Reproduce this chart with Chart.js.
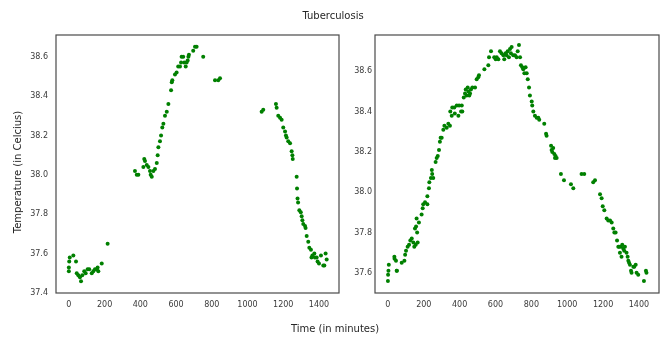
<!DOCTYPE html>
<html>
<head>
<meta charset="utf-8">
<script src="https://cdn.jsdelivr.net/npm/chart.js@4.4.1/dist/chart.umd.min.js"></script>
<style>
  body { margin: 0; background: #fff; font-family: "DejaVu Sans", sans-serif; }
  #wrap { position: relative; width: 663px; height: 339px; }
  canvas { position: absolute; top: 0; }
  .txt { position: absolute; color: #262626; font-size: 10px; line-height: 12px; white-space: nowrap; text-align: center; }
</style>
</head>
<body>
<div id="wrap">
  <canvas id="leftChart" style="left:0;width:345px;height:339px" width="345" height="339"></canvas>
  <canvas id="rightChart" style="left:345px;width:318px;height:339px" width="318" height="339"></canvas>
  <div class="txt" id="title" style="left:283px;width:100px;top:10px">Tuberculosis</div>
  <div class="txt" id="xlabel" style="left:275px;width:120px;top:323px">Time (in minutes)</div>
  <div class="txt" id="ylabel" style="left:-52px;width:140px;top:166px;transform:rotate(-90deg)">Temperature (in Celcius)</div>
</div>
<script>
/* DATA */

const leftTime = [
  0, 0, 2, 5, 25, 40, 44, 53, 62, 68, 75, 86, 94, 105, 114, 128, 137, 146, 156, 161, 165, 184, 217,
  370, 380, 389, 417, 422, 426, 436, 445, 454, 458, 464, 473, 482, 492, 497, 501, 510, 516, 523, 529,
  538, 548, 557, 572, 576, 579, 594, 603, 612, 622, 628, 631, 640, 646, 654, 659, 665, 669, 672, 696,
  706, 715, 752, 818, 836, 846,
  1079, 1088, 1159, 1163, 1172, 1182, 1191, 1200, 1210, 1215, 1219, 1228, 1238, 1247, 1251, 1253,
  1275, 1277, 1280, 1283, 1290, 1298, 1303, 1307, 1312, 1322, 1325, 1331, 1340, 1346, 1355, 1358,
  1363, 1374, 1377, 1387, 1392, 1400, 1411, 1424, 1430, 1437, 1443
];
const leftTemp = [
  37.51, 37.53, 37.56, 37.58, 37.59, 37.56, 37.50, 37.49, 37.48, 37.46, 37.49, 37.51, 37.50, 37.52, 37.52, 37.50, 37.51, 37.52, 37.52, 37.53, 37.51, 37.55, 37.65,
  38.02, 38.00, 38.00, 38.04, 38.08, 38.07, 38.05, 38.04, 38.02, 38.00, 37.99, 38.02, 38.03, 38.06, 38.10, 38.14, 38.17, 38.20, 38.24, 38.26,
  38.30, 38.32, 38.36, 38.43, 38.47, 38.48, 38.51, 38.52, 38.55, 38.55, 38.57, 38.60, 38.60, 38.57, 38.55, 38.57, 38.58, 38.60, 38.61, 38.63,
  38.65, 38.65, 38.60, 38.48, 38.48, 38.49,
  38.32, 38.33, 38.36, 38.34, 38.30, 38.29, 38.28, 38.24, 38.22, 38.20, 38.19, 38.17, 38.16, 38.12, 38.10, 38.08,
  37.99, 37.93, 37.88, 37.86, 37.82, 37.81, 37.79, 37.77, 37.75, 37.74, 37.73, 37.69, 37.66, 37.63, 37.62, 37.58,
  37.59, 37.60, 37.58, 37.58, 37.56, 37.55, 37.59, 37.54, 37.54, 37.60, 37.57
];

const rightTime = [
  0, 1, 3, 5, 36, 37, 45, 49, 50, 77, 92, 96, 101, 110, 118, 125, 133, 142, 147, 155, 166, 151, 157, 160,
  163, 173, 188, 194, 197, 207, 220, 220, 229, 231, 240, 247, 253, 245,
  266, 272, 278, 285, 290, 294, 300, 309, 315, 328, 337, 346, 348, 356, 359, 370, 373, 384, 393, 397,
  408, 412, 415, 423, 430, 434, 439, 445, 449, 454, 458, 463, 471, 486, 495, 504, 508, 538, 560, 564,
  575, 593, 601, 607, 616, 625, 634, 644, 649, 657, 662, 668, 675, 681, 686, 690, 699, 709, 718, 724,
  731, 737, 742, 750, 755, 761, 768, 774, 780, 787, 792, 802, 805, 811, 820, 830, 839, 844, 872, 882,
  885, 910, 913, 917, 922, 928, 935, 941, 932, 965, 982, 1021, 1034, 1080, 1095, 1145, 1155,
  1183, 1192, 1198, 1207, 1220, 1229, 1239, 1248, 1257, 1263, 1270, 1278, 1285, 1294, 1290, 1300,
  1307, 1313, 1318, 1322, 1331, 1303, 1337, 1341, 1345, 1350, 1356, 1359, 1369, 1374, 1382, 1387,
  1396, 1428, 1439, 1442
];
const rightTemp = [
  37.56, 37.59, 37.61, 37.64, 37.68, 37.67, 37.66, 37.61, 37.61, 37.65, 37.66, 37.69, 37.71, 37.73, 37.74, 37.76, 37.77, 37.75, 37.73, 37.74, 37.75, 37.82, 37.83, 37.87,
  37.80, 37.85, 37.89, 37.92, 37.94, 37.95, 37.94, 37.98, 38.02, 38.05, 38.07, 38.09, 38.07, 38.11,
  38.15, 38.17, 38.18, 38.21, 38.25, 38.27, 38.27, 38.31, 38.33, 38.32, 38.34, 38.33, 38.40, 38.38, 38.42, 38.42, 38.39, 38.43, 38.38, 38.43,
  38.40, 38.43, 38.40, 38.47, 38.49, 38.51, 38.48, 38.52, 38.50, 38.48, 38.49, 38.51, 38.52, 38.52, 38.56, 38.57, 38.58, 38.61, 38.63, 38.67,
  38.70, 38.67, 38.66, 38.67, 38.66, 38.70, 38.69, 38.68, 38.66, 38.69, 38.68, 38.70, 38.67, 38.71, 38.69, 38.72, 38.68, 38.68, 38.67, 38.70,
  38.73, 38.67, 38.63, 38.62, 38.61, 38.59, 38.62, 38.59, 38.56, 38.52, 38.48, 38.45, 38.43, 38.40, 38.38, 38.37, 38.37, 38.36, 38.34, 38.29,
  38.28, 38.23, 38.21, 38.20, 38.22, 38.19, 38.18, 38.17, 38.17, 38.09, 38.06, 38.04, 38.02, 38.09, 38.09, 38.05, 38.06,
  37.99, 37.97, 37.93, 37.91, 37.87, 37.86, 37.86, 37.85, 37.82, 37.80, 37.80, 37.76, 37.73, 37.70, 37.73, 37.73,
  37.74, 37.72, 37.71, 37.73, 37.70, 37.68, 37.68, 37.66, 37.65, 37.64, 37.61, 37.60, 37.63, 37.63, 37.64, 37.60,
  37.59, 37.56, 37.61, 37.60
];

const xTicks = [0, 200, 400, 600, 800, 1000, 1200, 1400];
const leftYTicks = [37.4, 37.6, 37.8, 38.0, 38.2, 38.4, 38.6];
const rightYTicks = [37.6, 37.8, 38.0, 38.2, 38.4, 38.6];

/* SETUP */

Chart.defaults.font.family = "'DejaVu Sans', sans-serif";
Chart.defaults.font.size = 8;
Chart.defaults.color = "#3a3a3a";

// frame round the plot area, like the reference
const frame = {
  id: "frame",
  afterDraw(chart){
    const a = chart.chartArea;
    const ctx = chart.ctx;
    ctx.save();
    ctx.strokeStyle = "#4a4a4a";
    ctx.lineWidth = 1.2;
    ctx.strokeRect(a.left, a.top, a.right - a.left, a.bottom - a.top);
    ctx.restore();
  }
};

function toPoints(xs, ys){
  return xs.map((x, i) => ({ x: x, y: ys[i] }));
}

function makeChart(id, xs, ys, yTicks, yMin, yMax, yWidth, yPad, rightPad){

  return new Chart(
    document.getElementById(id),
    {
      type: "scatter",
      data: {
        datasets: [{
          data: toPoints(xs, ys),
          backgroundColor: "#008000",
          borderColor: "#008000",
          pointRadius: 2,
          pointBorderWidth: 0
        }]
      },
      options: {
        responsive: false,
        animation: false,
        layout: { padding: { top: 35, right: rightPad, bottom: 0, left: 0 } },
        plugins: {
          legend: { display: false },
          tooltip: { enabled: false }
        },
        scales: {
          x: {
            type: "linear",
            min: -72,
            max: 1512,
            grid: { display: false, drawTicks: false },
            border: { display: false },
            ticks: { padding: 7, maxRotation: 0, callback: v => String(v) },
            afterBuildTicks: s => { s.ticks = xTicks.map(v => ({ value: v })); },
            afterFit: s => { s.height = 46; }
          },
          y: {
            type: "linear",
            min: yMin,
            max: yMax,
            grid: { display: false, drawTicks: false },
            border: { display: false },
            ticks: { padding: yPad, callback: v => v.toFixed(1) },
            afterBuildTicks: s => { s.ticks = yTicks.map(v => ({ value: v })); },
            afterFit: s => { s.width = yWidth; }
          }
        }
      },
      plugins: [frame]
    }
  );

}

makeChart("leftChart", leftTime, leftTemp, leftYTicks, 37.40, 38.71, 56, 8, 6);
makeChart("rightChart", rightTime, rightTemp, rightYTicks, 37.50, 38.78, 30, 3, 4);
</script>
</body>
</html>
